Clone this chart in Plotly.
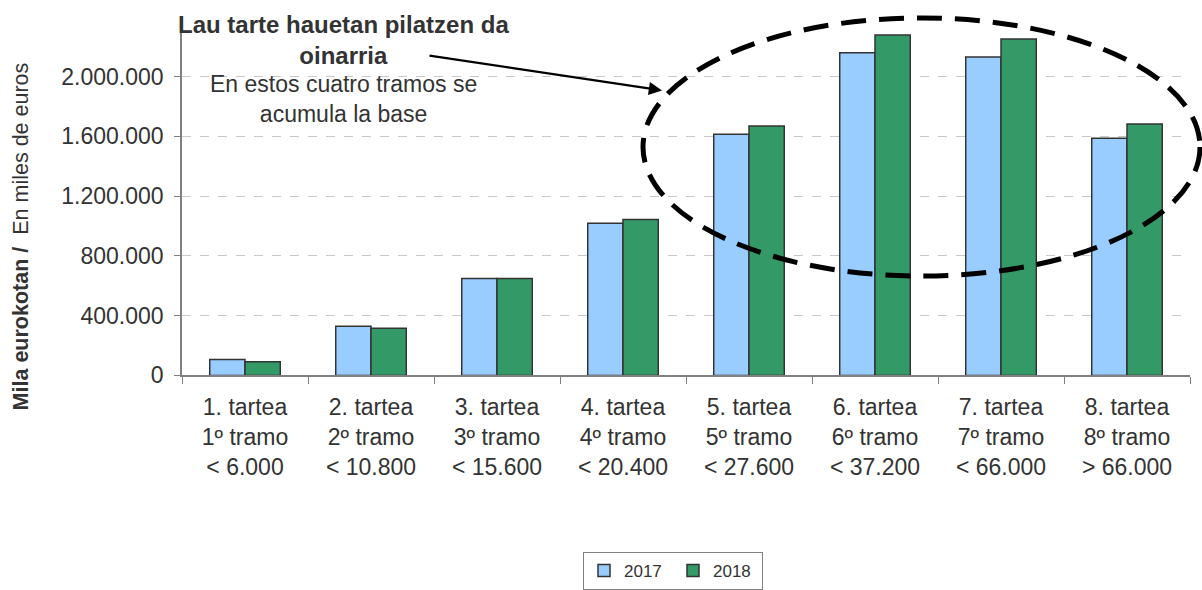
import plotly.graph_objects as go

categories = [
    "1. tartea<br>1º tramo<br>< 6.000",
    "2. tartea<br>2º tramo<br>< 10.800",
    "3. tartea<br>3º tramo<br>< 15.600",
    "4. tartea<br>4º tramo<br>< 20.400",
    "5. tartea<br>5º tramo<br>< 27.600",
    "6. tartea<br>6º tramo<br>< 37.200",
    "7. tartea<br>7º tramo<br>< 66.000",
    "8. tartea<br>8º tramo<br>> 66.000",
]
values_2017 = [106000, 329000, 648000, 1019000, 1615000, 2159000, 2131000, 1587000]
values_2018 = [91000, 316000, 648000, 1043000, 1669000, 2278000, 2252000, 1682000]
series_names = ["2017", "2018"]
y_ticks = [0, 400000, 800000, 1200000, 1600000, 2000000]

W, H = 1202, 590
PL, PR, PT, PB = 182, 1190, 32, 378  # plot area in pixels


def px(x):
    return x / W


def py(y):
    return (H - y) / H


fig = go.Figure()
fig.add_trace(go.Bar(name=series_names[0], x=categories, y=values_2017,
                     marker=dict(color="#99CCFF", line=dict(color="#333333", width=1.5))))
fig.add_trace(go.Bar(name=series_names[1], x=categories, y=values_2018,
                     marker=dict(color="#339966", line=dict(color="#333333", width=1.5))))

font_family = "Liberation Sans, Arial, sans-serif"

fig.update_layout(
    width=W, height=H,
    margin=dict(l=0, r=0, t=0, b=0, pad=0),
    plot_bgcolor="white", paper_bgcolor="white",
    barmode="group", bargap=0.44, bargroupgap=0,
    separators=",.",
    font=dict(family=font_family, color="#333333", size=23),
    showlegend=True,
    legend=dict(orientation="h", x=px(673), y=py(556), xanchor="center", yanchor="top",
                bordercolor="#808080", borderwidth=1, font=dict(size=17),
                itemwidth=30, entrywidth=44, bgcolor="white"),
    xaxis=dict(domain=[px(PL), px(PR)], showline=True, linecolor="#808080", linewidth=1.5,
               ticks="outside", tickson="boundaries", ticklen=7, tickcolor="#808080",
               tickfont=dict(size=23), showgrid=False, ticklabelstandoff=10,
               automargin=False),
    yaxis=dict(domain=[py(PB), py(PT)], range=[0, 2300000], tickvals=y_ticks, tickformat=",d",
               showline=True, linecolor="#808080", linewidth=1.5,
               ticks="outside", ticklen=6, tickcolor="#808080",
               showgrid=True, gridcolor="#C8C8C8", griddash="dash", gridwidth=1,
               tickfont=dict(size=23), zeroline=False, ticklabelstandoff=6,
               automargin=False),
)

# ellipse highlighting the four top ranges
fig.add_shape(type="circle", xref="paper", yref="paper",
              x0=px(643), x1=px(1200), y0=py(278), y1=py(18),
              line=dict(color="black", width=5, dash="25px,13px"))

# annotations
fig.add_annotation(xref="paper", yref="paper", x=px(343), y=py(40),
                   xanchor="center", yanchor="middle",
                   text="<b>Lau tarte hauetan pilatzen da<br>oinarria</b>",
                   showarrow=False, font=dict(size=24, color="#333333"), align="center")
fig.add_annotation(xref="paper", yref="paper", x=px(343), y=py(100),
                   xanchor="center", yanchor="middle",
                   text="En estos cuatro tramos se<br>acumula la base",
                   showarrow=False, font=dict(size=23, color="#333333"), align="center")
fig.add_annotation(xref="paper", yref="paper", x=px(662), y=py(91),
                   ax=428 - 662, ay=56 - 91, text="", showarrow=True,
                   arrowhead=2, arrowsize=1.2, arrowwidth=2.2, arrowcolor="black")
fig.add_annotation(xref="paper", yref="paper", x=px(21), y=py(238),
                   xanchor="center", yanchor="middle",
                   text="<b>Mila eurokotan /</b>  En miles de euros", textangle=-90,
                   showarrow=False, font=dict(size=21.5, color="#333333"))

fig.write_html("out.html", config={"displayModeBar": False},
               post_script="document.body.style.margin='0';document.body.style.overflow='hidden';")
